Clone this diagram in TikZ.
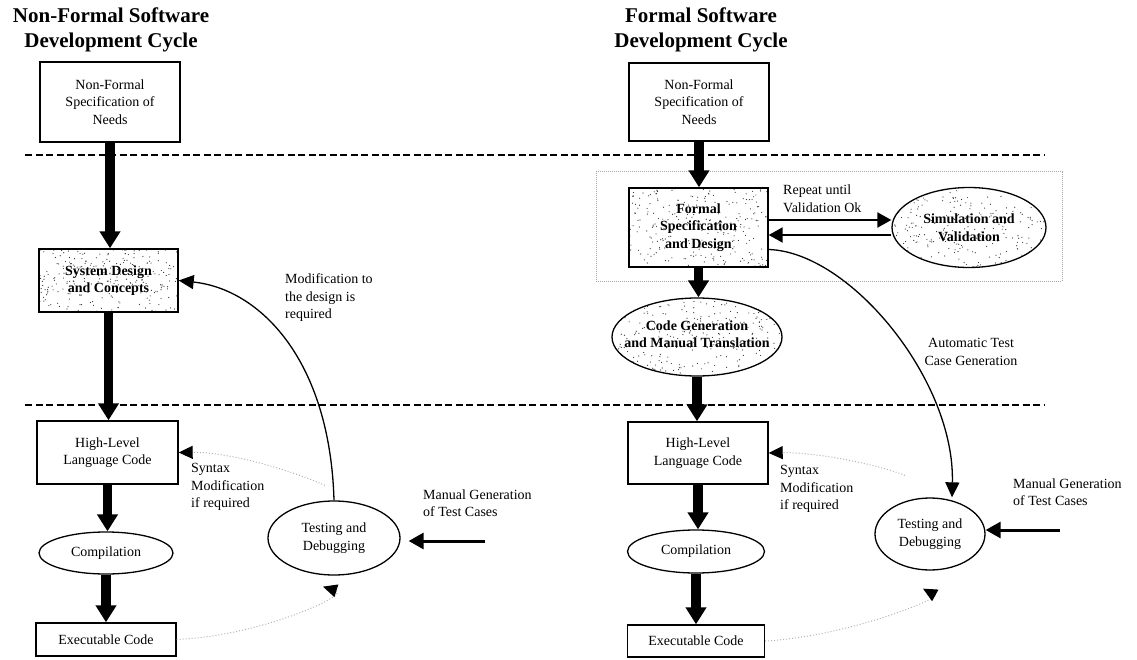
\documentclass[tikz,border=0pt]{standalone}
\usepackage{fontspec}
\setmainfont{Liberation Serif}
\usetikzlibrary{arrows.meta,shapes.geometric,calc}

\begin{document}
\begin{tikzpicture}[x=1pt,y=-1pt,
  txt/.style={font=\fontsize{14}{17.5}\selectfont, align=center, inner sep=0pt},
  bold/.style={font=\fontsize{14}{17.5}\selectfont\bfseries, align=center, inner sep=0pt},
  note/.style={txt, align=left, anchor=west},
  title/.style={font=\fontsize{21}{25}\selectfont\bfseries, align=center, inner sep=0pt},
  box/.style={draw, line width=1.4pt, inner sep=2pt, fill=white},
  ell/.style={ellipse, draw, line width=1.3pt, inner sep=0pt, fill=white},
  specks/.style 2 args={fill=white, path picture={
      \foreach \k in {1,...,260}
        \fill[black!80] ($(path picture bounding box.north west)+({rnd*#1},{rnd*#2})$) circle[radius=0.6];
    }},
  big/.style={line width=9.5pt, -{Triangle[length=17pt,width=20pt]}},
  curvarr/.style={line width=1.3pt, -{Triangle[length=15pt,width=14pt]}},
  reparr/.style={line width=2.2pt, -{Triangle[length=14pt,width=15pt]}},
  manarr/.style={line width=3pt, -{Triangle[length=15pt,width=16pt]}},
  dotarr/.style={gray!60, line width=1pt, dotted, -{Triangle[length=14pt,width=13pt,color=black]}},
  sep/.style={line width=1.6pt, dash pattern=on 7pt off 3.5pt},
  grp/.style={draw=gray!70, line width=1pt, densely dotted, inner sep=0pt}
]
\useasboundingbox (0,0) rectangle (1137,660);
\pgfmathsetseed{11}

% phase separators
\draw[sep] (25,155) -- (1045,155);
\draw[sep] (25,405) -- (1045,405);

% ---------- non-formal cycle ----------
\node[title] (ltitle) at (111,30) {Non-Formal Software\\Development Cycle};
\node[box, txt, minimum width=140pt, minimum height=80pt] (lneeds) at (110,102) {Non-Formal\\Specification of\\Needs};
\node[box, bold, specks={139}{63}, minimum width=139pt, minimum height=63pt] (lsys) at (108.5,280.5) {System Design\\and Concepts};
\node[box, txt, minimum width=141pt, minimum height=63pt] (lhl) at (107.5,452.5) {High-Level\\Language Code};
\node[ell, minimum width=134pt, minimum height=42pt, label={[txt]center:Compilation}] (lcomp) at (106,553) {};
\node[box, txt, minimum width=140pt, minimum height=33pt] (lexec) at (106,639.5) {Executable Code};
\node[ell, minimum width=132pt, minimum height=74pt, label={[txt]center:{Testing and\\Debugging}}] (ltest) at (334,538) {};

\node[note] (lmod) at (285,298) {Modification to\\the design is\\required};
\node[note] (lsyn) at (191,487) {Syntax\\Modification\\if required};
\node[note] (lman) at (423,503) {Manual Generation\\of Test Cases};
\coordinate (lmanstart) at (485,541);

\draw[big] (lneeds.south) -- (lneeds.south |- lsys.north);
\draw[big] (lsys.south) -- (lsys.south |- lhl.north);
\draw[big] (lhl.south) -- (lhl.south |- lcomp.north);
\draw[big] (lcomp.south) -- (lcomp.south |- lexec.north);
\draw[curvarr] (ltest.north) .. controls (330,360) and (260,289) .. (lsys.east);
\draw[dotarr] ([shift={(-9,-15)}]ltest.north) .. controls (290,470) and (230,452) .. (lhl.east);
\draw[dotarr] (lexec.east) .. controls (260,636) and (350,595) .. ([shift={(-11,11)}]ltest.south);
\draw[manarr, shorten >=8pt] (lmanstart) -- (lmanstart -| ltest.east);

% ---------- formal cycle ----------
\node[title] (rtitle) at (701,30) {Formal Software\\Development Cycle};
\node[grp, minimum width=466pt, minimum height=109pt] (valbox) at (829,226.5) {};
\node[box, txt, minimum width=140pt, minimum height=78pt] (rneeds) at (699,102) {Non-Formal\\Specification of\\Needs};
\node[box, bold, specks={139}{79}, minimum width=139pt, minimum height=79pt] (rspec) at (698.5,227.5) {Formal\\Specification\\and Design};
\node[ell, specks={154}{80}, minimum width=154pt, minimum height=80pt, label={[bold]center:{Simulation and\\Validation}}] (rsim) at (969,227.5) {};
\node[ell, specks={170}{78}, minimum width=170pt, minimum height=78pt, label={[bold, yshift=3pt]center:{Code Generation\\and Manual Translation}}] (rcode) at (697,337) {};
\node[box, txt, minimum width=140pt, minimum height=62pt] (rhl) at (698,453) {High-Level\\Language Code};
\node[ell, minimum width=137pt, minimum height=43pt, label={[txt]center:Compilation}] (rcomp) at (696,551.5) {};
\node[box, txt, minimum width=137pt, minimum height=32pt] (rexec) at (696,641) {Executable Code};
\node[ell, minimum width=110pt, minimum height=72pt, label={[txt]center:{Testing and\\Debugging}}] (rtest) at (930,534) {};

\node[note] (rrep) at (783,199) {Repeat until\\Validation Ok};
\node[txt] (rauto) at (971,352) {Automatic Test\\Case Generation};
\node[note] (rsyn) at (780,489) {Syntax\\Modification\\if required};
\node[note] (rman) at (1013,492) {Manual Generation\\of Test Cases};
\coordinate (rmanstart) at (1060,530);

\draw[big] (rneeds.south) -- (rneeds.south |- rspec.north);
\draw[big] (rspec.south) -- (rspec.south |- rcode.north);
\draw[big] (rcode.south) -- (rcode.south |- rhl.north);
\draw[big] (rhl.south) -- (rhl.south |- rcomp.north);
\draw[big] (rcomp.south) -- (rcomp.south |- rexec.north);
\draw[reparr] ([yshift=7.5pt]rspec.east) -- ([yshift=7.5pt]rsim.west);
\draw[reparr] ([yshift=-7.5pt]rsim.west) -- ([yshift=-7.5pt]rspec.east);
\draw[curvarr] ([yshift=-22pt]rspec.east) .. controls (850,252) and (955,380) .. ([xshift=22pt]rtest.north);
\draw[dotarr] ([shift={(-25,-22)}]rtest.north) .. controls (870,462) and (810,452) .. (rhl.east);
\draw[dotarr] (rexec.east) .. controls (850,636) and (940,598) .. ([shift={(-7,18)}]rtest.south);
\draw[manarr] (rmanstart) -- (rmanstart -| rtest.east);
\end{tikzpicture}
\end{document}
